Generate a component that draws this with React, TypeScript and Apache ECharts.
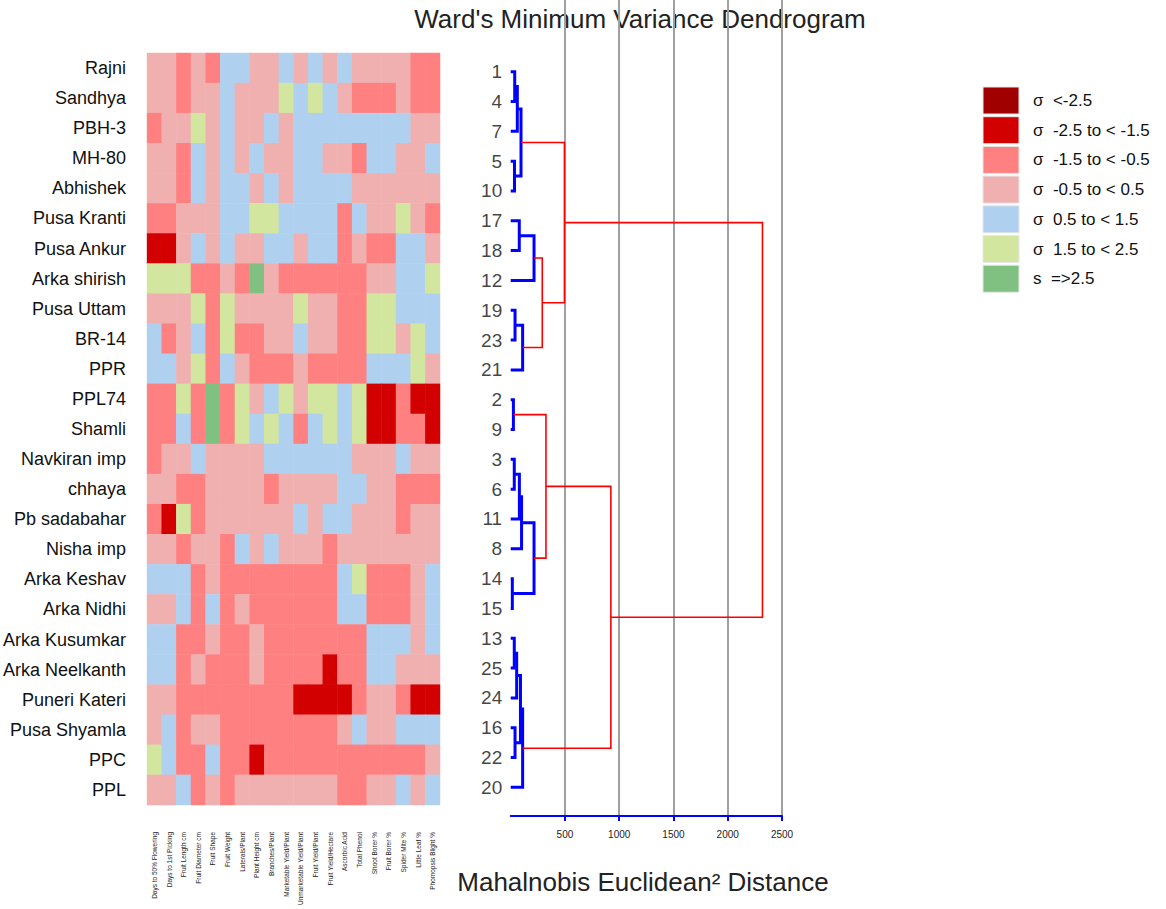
import React, { useEffect, useRef } from "react";
import * as echarts from "echarts";

const varieties = [
  "Rajni", "Sandhya", "PBH-3", "MH-80", "Abhishek", "Pusa Kranti", "Pusa Ankur",
  "Arka shirish", "Pusa Uttam", "BR-14", "PPR", "PPL74", "Shamli", "Navkiran imp",
  "chhaya", "Pb sadabahar", "Nisha imp", "Arka Keshav", "Arka Nidhi", "Arka Kusumkar",
  "Arka Neelkanth", "Puneri Kateri", "Pusa Shyamla", "PPC", "PPL",
];

const traits = [
  "Days to 50% Flowering", "Days to 1st Picking", "Fruit Length cm", "Fruit Diameter cm",
  "Fruit Shape", "Fruit Weight", "Laterals/Plant", "Plant Height cm", "Branches/Plant",
  "Marketable Yield/Plant", "Unmarketable Yield/Plant", "Fruit Yield/Plant",
  "Fruit Yield/Hectare", "Ascorbic Acid", "Total Phenol", "Shoot Borer %",
  "Fruit Borer %", "Spider Mite %", "Little Leaf %", "Phomopsis Blight %",
];

// standardized class per cell: -3 (<-2.5) ... 3 (>=2.5)
const classRows = [
  [0, 0, -1, 0, -1, 1, 1, 0, 0, 1, 0, 1, 0, 1, 0, 0, 0, 0, -1, -1],
  [0, 0, -1, 0, 0, 1, 0, 0, 0, 2, 1, 2, 1, 0, -1, -1, -1, 0, -1, -1],
  [-1, 0, 0, 2, 0, 1, 0, 0, 1, 0, 1, 1, 1, 1, 1, 1, 1, 1, 0, 0],
  [0, 0, -1, 1, 0, 1, 0, 1, 0, 0, 1, 1, 0, 0, -1, 1, 1, 0, 0, 1],
  [0, 0, -1, 1, 0, 1, 1, 0, 1, 0, 1, 1, 1, 1, 0, 0, 0, 0, 0, 0],
  [-1, -1, 0, 0, 0, 1, 1, 2, 2, 1, 1, 1, 1, -1, 1, 0, 0, 2, 0, -1],
  [-2, -2, 0, 1, 0, 1, 0, 0, 1, 1, 0, 1, 1, -1, 0, -1, -1, 1, 1, 0],
  [2, 2, 2, -1, -1, 0, -1, 3, 0, -1, -1, -1, -1, -1, -1, 0, 0, 1, 1, 2],
  [0, 0, 0, 2, -1, 2, 0, 0, 0, 0, 2, 0, 0, -1, -1, 2, 2, 1, 1, 1],
  [1, -1, 0, 1, -1, 2, -1, -1, 0, 0, 1, 0, 0, -1, -1, 2, 2, 0, 2, 1],
  [1, 1, 0, 2, -1, 1, 0, -1, -1, -1, 0, -1, -1, -1, -1, 1, 1, 1, 2, 0],
  [-1, -1, 2, -1, 3, -1, 2, 0, 1, 2, 0, 2, 2, 1, 2, -2, -2, -1, -2, -2],
  [-1, -1, 1, -1, 3, -1, 2, 1, 2, 1, -1, 1, 2, 1, 2, -2, -2, -1, -1, -2],
  [-1, 0, 0, 1, 0, 0, 0, 0, 1, 1, 1, 1, 1, 1, 0, 0, 0, 1, 0, 0],
  [0, 0, -1, -1, 0, 0, 0, 0, -1, 0, 0, 0, 0, 1, 1, 0, 0, -1, -1, -1],
  [-1, -2, 2, -1, 0, 0, 0, 0, 0, 0, 1, 0, 1, 1, 0, 0, 0, -1, 0, 0],
  [0, 0, -1, 0, 0, -1, 1, 0, 1, 0, 0, 0, -1, 0, 0, 0, 0, 0, 0, 0],
  [1, 1, 1, -1, 0, -1, -1, -1, -1, -1, -1, -1, -1, 1, 2, -1, -1, -1, 0, 1],
  [0, 0, 1, -1, 1, -1, 0, -1, -1, -1, -1, -1, -1, 1, 1, -1, -1, -1, 0, 1],
  [1, 1, -1, -1, 0, -1, -1, 0, -1, -1, -1, -1, -1, -1, -1, 1, 1, 1, 0, 1],
  [1, 1, -1, 0, -1, -1, -1, 0, -1, -1, -1, -1, -2, -1, -1, 1, 1, 0, 0, 0],
  [0, 0, -1, -1, -1, -1, -1, -1, -1, -1, -2, -2, -2, -2, -1, 0, 0, -1, -2, -2],
  [0, 1, -1, 0, 0, -1, -1, -1, -1, -1, -1, -1, -1, 0, 1, 0, 0, 1, 1, 1],
  [2, 1, -1, -1, 1, -1, -1, -2, -1, -1, -1, -1, -1, -1, -1, -1, -1, -1, -1, 0],
  [0, 0, 1, -1, 0, -1, 0, 0, 0, 0, 0, 0, 0, -1, -1, 0, 0, 1, 0, 1],
];

const classValues = [-3, -2, -1, 0, 1, 2, 3];
const classColors = ["#a00000", "#d20000", "#ff8080", "#f0b0b0", "#b0d0f0", "#d2e6a0", "#80c080"];
const legendLabels = [
  "σ  <-2.5", "σ  -2.5 to < -1.5", "σ  -1.5 to < -0.5", "σ  -0.5 to < 0.5",
  "σ  0.5 to < 1.5", "σ  1.5 to < 2.5", "s  =>2.5",
];

// dendrogram leaves, top to bottom
const leafOrder = [1, 4, 7, 5, 10, 17, 18, 12, 19, 23, 21, 2, 9, 3, 6, 11, 8, 14, 15, 13, 25, 24, 16, 22, 20];

// merges: [left, right, height]; "L#" = leaf, "m#" = earlier merge index
const merges: [string, string, number][] = [
  ["L1", "L4", 37],
  ["m0", "L7", 61],
  ["L5", "L10", 35],
  ["m1", "m2", 95],
  ["L17", "L18", 79],
  ["m4", "L12", 215],
  ["L19", "L23", 40],
  ["m6", "L21", 110],
  ["m5", "m7", 291],
  ["m3", "m8", 495],
  ["L2", "L9", 25],
  ["L3", "L6", 33],
  ["m11", "L11", 80],
  ["m12", "L8", 100],
  ["L14", "L15", 15],
  ["m13", "m14", 215],
  ["m10", "m15", 325],
  ["L13", "L25", 33],
  ["m17", "L24", 55],
  ["L16", "L22", 40],
  ["m18", "m19", 90],
  ["m20", "L20", 110],
  ["m16", "m21", 923],
  ["m9", "m22", 2320],
];

const distanceMax = 2500;
const distanceStep = 500;
const redThreshold = 250;

const FONT = '"Liberation Sans", Arial, sans-serif';

export default function App() {
  const ref = useRef<HTMLDivElement>(null);

  useEffect(() => {
    if (!ref.current) return;
    const chart = echarts.init(ref.current, undefined, { renderer: "svg" });

    const heatData: number[][] = [];
    classRows.forEach((row, r) => row.forEach((v, c) => heatData.push([c, r, v])));

    const pos: Record<string, number> = {};
    const hgt: Record<string, number> = {};
    leafOrder.forEach((l, i) => {
      pos["L" + l] = i;
      hgt["L" + l] = 0;
    });
    const segs: any[] = [];
    merges.forEach(([a, b, h], k) => {
      const id = "m" + k;
      const red = h >= redThreshold;
      segs.push({
        coords: [
          [hgt[a], pos[a]],
          [h, pos[a]],
          [h, pos[b]],
          [hgt[b], pos[b]],
        ],
        lineStyle: { color: red ? "#ff0000" : "#0000ff", width: red ? 1.6 : 3, opacity: 1 },
      });
      pos[id] = (pos[a] + pos[b]) / 2;
      hgt[id] = h;
    });

    const legendGraphics: any[] = [];
    classColors.forEach((col, i) => {
      const yTop = 87 + i * 29.7;
      legendGraphics.push({
        type: "rect",
        shape: { x: 983, y: yTop, width: 36, height: 27 },
        style: { fill: col, stroke: "#e6e6e6", lineWidth: 1 },
      });
      legendGraphics.push({
        type: "text",
        x: 1033,
        y: yTop + 13.5,
        style: {
          text: legendLabels[i],
          font: `17px ${FONT}`,
          fill: "#111",
          textAlign: "left",
          align: "left",
          textVerticalAlign: "middle",
          verticalAlign: "middle",
        },
      });
    });

    chart.setOption({
      animation: false,
      backgroundColor: "#ffffff",
      textStyle: { fontFamily: FONT },
      grid: [
        { left: 143, top: 53, width: 297, height: 752 },
        { left: 510.7, top: 0, width: 271.3, height: 816 },
      ],
      xAxis: [
        {
          type: "category",
          gridIndex: 0,
          data: traits,
          axisLine: { show: false },
          axisTick: { show: false },
          splitLine: { show: false },
          axisLabel: { rotate: 90, fontSize: 6.5, margin: 27, interval: 0, color: "#222" },
        },
        {
          type: "value",
          gridIndex: 1,
          min: 0,
          max: distanceMax,
          interval: distanceStep,
          axisLine: { show: true, onZero: false, lineStyle: { color: "#0000ff", width: 2 } },
          axisTick: { show: true, length: 5, lineStyle: { color: "#0000ff", width: 2 } },
          axisLabel: {
            fontSize: 10,
            margin: 13,
            color: "#222",
            showMinLabel: false,
            formatter: (v: number) => String(v),
          },
          splitLine: { show: true, showMinLine: false, lineStyle: { color: "#a0a0a0", width: 2 } },
        },
      ],
      yAxis: [
        {
          type: "category",
          gridIndex: 0,
          data: varieties,
          inverse: true,
          axisLine: { show: false },
          axisTick: { show: false },
          splitLine: { show: false },
          axisLabel: { fontSize: 18, margin: 21, color: "#111", interval: 0 },
        },
        {
          type: "value",
          gridIndex: 1,
          min: -2.404,
          max: 24.96,
          inverse: true,
          show: false,
          splitLine: { show: false },
        },
      ],
      visualMap: {
        type: "piecewise",
        show: false,
        dimension: 2,
        seriesIndex: 0,
        pieces: classValues.map((v, i) => ({ value: v, color: classColors[i] })),
      },
      series: [
        {
          type: "heatmap",
          xAxisIndex: 0,
          yAxisIndex: 0,
          data: heatData,
          itemStyle: { borderWidth: 0 },
          emphasis: { disabled: true },
        },
        {
          type: "lines",
          coordinateSystem: "cartesian2d",
          xAxisIndex: 1,
          yAxisIndex: 1,
          polyline: true,
          data: segs,
          lineStyle: { opacity: 1 },
          silent: true,
          z: 5,
        },
        {
          type: "scatter",
          xAxisIndex: 1,
          yAxisIndex: 1,
          symbolSize: 1,
          itemStyle: { color: "rgba(0,0,0,0)" },
          data: leafOrder.map((l, i) => [0, i]),
          label: {
            show: true,
            position: "left",
            distance: 8,
            fontSize: 19,
            color: "#111",
            formatter: (p: any) => String(leafOrder[p.dataIndex]),
          },
          silent: true,
        },
      ],
      graphic: [
        {
          type: "text",
          x: 640,
          y: 19,
          style: {
            text: "Ward's Minimum Variance Dendrogram",
            font: `26px ${FONT}`,
            fill: "#222",
            textAlign: "center",
            align: "center",
            textVerticalAlign: "middle",
            verticalAlign: "middle",
          },
        },
        {
          type: "text",
          x: 643,
          y: 882,
          style: {
            text: "Mahalnobis Euclidean² Distance",
            font: `26px ${FONT}`,
            fill: "#222",
            textAlign: "center",
            align: "center",
            textVerticalAlign: "middle",
            verticalAlign: "middle",
          },
        },
        ...legendGraphics,
      ],
    });

    return () => chart.dispose();
  }, []);

  return (
    <div
      ref={ref}
      style={{ position: "absolute", left: 0, top: 0, width: 1166, height: 909 }}
    />
  );
}
